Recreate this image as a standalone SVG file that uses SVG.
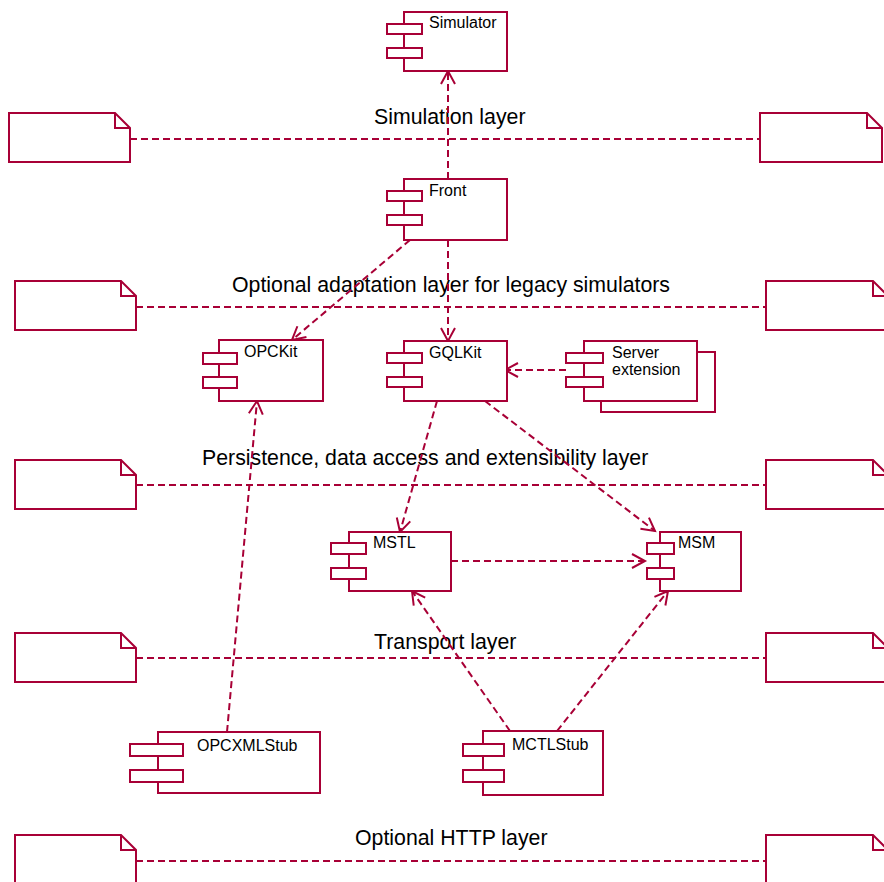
<svg xmlns="http://www.w3.org/2000/svg" width="884" height="882" viewBox="0 0 884 882">
<style>
.b{fill:#fff;stroke:#a80036;stroke-width:2}
.n{fill:#fff;stroke:#a80036;stroke-width:2;stroke-linejoin:miter}
.d{fill:none;stroke:#a80036;stroke-width:2;stroke-dasharray:7,4}
.t{font-family:"Liberation Sans",Arial,sans-serif;font-size:16px;fill:#000}
.L{font-family:"Liberation Sans",Arial,sans-serif;font-size:21.3px;fill:#000}
</style>
<defs>
<marker id="a" markerUnits="userSpaceOnUse" markerWidth="16" markerHeight="16" refX="13" refY="7" orient="auto" overflow="visible">
<path d="M0,0 L13,7 L0,14" fill="none" stroke="#a80036" stroke-width="2" stroke-dasharray="none"/>
</marker>
</defs>
<rect width="884" height="882" fill="#fff"/>

<g id="layers">
<g id="layer-sim">
<path class="n" d="M9,113 H115 L130,128 V162 H9 Z M115,113 V128 H130"/>
<path class="n" d="M760,113 H867 L882,128 V162 H760 Z M867,113 V128 H882"/>
<line class="d" x1="130" y1="139" x2="760" y2="139"/>
<text class="L" x="374" y="124">Simulation layer</text>
</g>
<g id="layer-adapt">
<path class="n" d="M15,281 H121 L136,296 V330 H15 Z M121,281 V296 H136"/>
<path class="n" d="M766,281 H873 L888,296 V330 H766 Z M873,281 V296 H888"/>
<line class="d" x1="136" y1="307" x2="766" y2="307"/>
<text class="L" x="232" y="292">Optional adaptation layer for legacy simulators</text>
</g>
<g id="layer-persist">
<path class="n" d="M15,460 H121 L136,475 V509 H15 Z M121,460 V475 H136"/>
<path class="n" d="M766,460 H873 L888,475 V509 H766 Z M873,460 V475 H888"/>
<line class="d" x1="136" y1="485" x2="766" y2="485"/>
<text class="L" x="202" y="465">Persistence, data access and extensibility layer</text>
</g>
<g id="layer-transport">
<path class="n" d="M15,633 H121 L136,648 V682 H15 Z M121,633 V648 H136"/>
<path class="n" d="M766,633 H873 L888,648 V682 H766 Z M873,633 V648 H888"/>
<line class="d" x1="136" y1="658" x2="766" y2="658"/>
<text class="L" x="374" y="649">Transport layer</text>
</g>
<g id="layer-http">
<path class="n" d="M15,835 H121 L136,850 V890 H15 Z M121,835 V850 H136"/>
<path class="n" d="M766,835 H873 L888,850 V890 H766 Z M873,835 V850 H888"/>
<line class="d" x1="136" y1="861" x2="766" y2="861"/>
<text class="L" x="355" y="845">Optional HTTP layer</text>
</g>
</g>

<g id="connectors">
<line class="d" x1="448" y1="179" x2="448" y2="71" marker-end="url(#a)"/>
<line class="d" x1="410" y1="240" x2="292" y2="340" marker-end="url(#a)"/>
<line class="d" x1="448" y1="240" x2="448" y2="341" marker-end="url(#a)"/>
<line class="d" x1="566" y1="370" x2="505" y2="370" marker-end="url(#a)"/>
<line class="d" x1="437" y1="401" x2="400" y2="532" marker-end="url(#a)"/>
<line class="d" x1="485" y1="401" x2="655" y2="531" marker-end="url(#a)"/>
<line class="d" x1="451" y1="561" x2="645" y2="561" marker-end="url(#a)"/>
<line class="d" x1="510" y1="731" x2="412" y2="591" marker-end="url(#a)"/>
<line class="d" x1="557" y1="731" x2="668" y2="591" marker-end="url(#a)"/>
<line class="d" x1="227" y1="732" x2="257" y2="401" marker-end="url(#a)"/>
</g>

<g id="Simulator">
<rect class="b" x="404" y="12" width="103" height="59"/>
<rect class="b" x="387" y="24" width="35" height="10"/>
<rect class="b" x="387" y="48" width="35" height="10"/>
<text class="t" x="429" y="28">Simulator</text>
</g>
<g id="Front">
<rect class="b" x="404" y="179" width="103" height="61"/>
<rect class="b" x="387" y="191" width="35" height="10"/>
<rect class="b" x="387" y="215" width="35" height="10"/>
<text class="t" x="429" y="196">Front</text>
</g>
<g id="OPCKit">
<rect class="b" x="219" y="340" width="104" height="61"/>
<rect class="b" x="203" y="353" width="34" height="11"/>
<rect class="b" x="203" y="377" width="34" height="11"/>
<text class="t" x="244" y="357">OPCKit</text>
</g>
<g id="GQLKit">
<rect class="b" x="404" y="341" width="103" height="60"/>
<rect class="b" x="387" y="353" width="35" height="10"/>
<rect class="b" x="387" y="377" width="35" height="10"/>
<text class="t" x="429" y="358">GQLKit</text>
</g>
<g id="ServerExtension">
<rect class="b" x="601" y="352" width="114" height="60"/>
<rect class="b" x="584" y="341" width="113" height="60"/>
<rect class="b" x="566" y="353" width="37" height="10"/>
<rect class="b" x="566" y="377" width="37" height="10"/>
<text class="t" x="612" y="358">Server</text>
<text class="t" x="612" y="375">extension</text>
</g>
<g id="MSTL">
<rect class="b" x="349" y="532" width="102" height="59"/>
<rect class="b" x="331" y="543" width="35" height="11"/>
<rect class="b" x="331" y="568" width="35" height="11"/>
<text class="t" x="373" y="548">MSTL</text>
</g>
<g id="MSM">
<rect class="b" x="660" y="532" width="81" height="59"/>
<rect class="b" x="647" y="543" width="27" height="11"/>
<rect class="b" x="647" y="568" width="27" height="11"/>
<text class="t" x="678" y="548">MSM</text>
</g>
<g id="OPCXMLStub">
<rect class="b" x="158" y="732" width="162" height="61"/>
<rect class="b" x="130" y="744" width="53" height="12"/>
<rect class="b" x="130" y="770" width="53" height="12"/>
<text class="t" x="197" y="751">OPCXMLStub</text>
</g>
<g id="MCTLStub">
<rect class="b" x="483" y="731" width="120" height="64"/>
<rect class="b" x="463" y="744" width="41" height="12"/>
<rect class="b" x="463" y="770" width="41" height="12"/>
<text class="t" x="512" y="750">MCTLStub</text>
</g>
</svg>
